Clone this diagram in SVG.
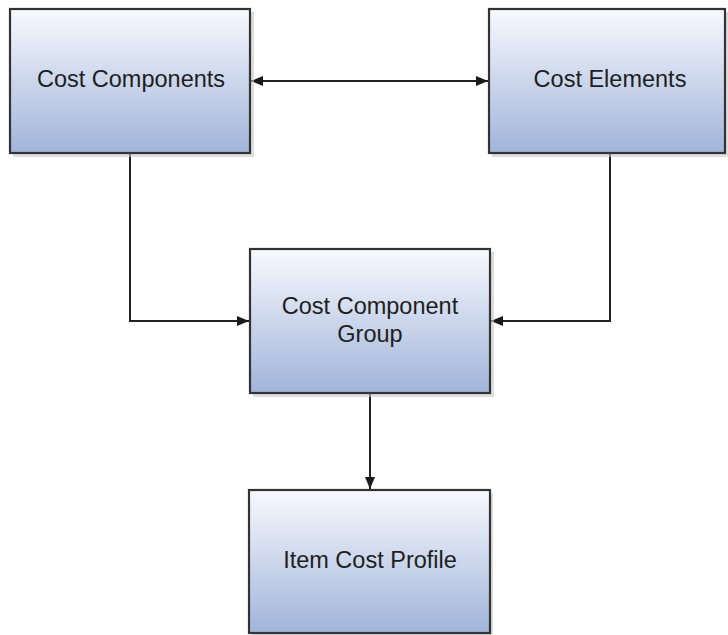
<svg xmlns="http://www.w3.org/2000/svg" width="728" height="635" viewBox="0 0 728 635">
<defs>
<linearGradient id="g" x1="0" y1="0" x2="0" y2="1">
<stop offset="0" stop-color="#f8f9fd"/>
<stop offset="1" stop-color="#a0b4da"/>
</linearGradient>
<marker id="ah" viewBox="0 0 12 10" refX="12" refY="5" markerWidth="12" markerHeight="10" markerUnits="userSpaceOnUse" orient="auto-start-reverse">
<path d="M0,0 L12,5 L0,10 Z" fill="#1a1a1a"/>
</marker>
</defs>
<style>
.box{fill:url(#g);stroke:#333;stroke-width:2.2}
.sh{fill:#c8c8c8;opacity:0.6}
.lbl{font-family:"Liberation Sans",Arial,sans-serif;font-size:23.5px;fill:#1e1e1e;text-anchor:middle}
.c{fill:none;stroke:#222;stroke-width:2}
</style>
<rect width="728" height="635" fill="#fff"/>
<g id="connectors">
<line class="c" x1="251" y1="81" x2="488" y2="81" marker-start="url(#ah)" marker-end="url(#ah)"/>
<polyline class="c" points="130,153 130,321 249,321" marker-end="url(#ah)"/>
<polyline class="c" points="610,153 610,321 491,321" marker-end="url(#ah)"/>
<line class="c" x1="370" y1="393" x2="370" y2="489" marker-end="url(#ah)"/>
</g>
<g id="cost-components">
<rect class="sh" x="13" y="12" width="241" height="145"/>
<rect class="box" x="10" y="9" width="240" height="144"/>
<text class="lbl" x="131" y="87">Cost Components</text>
</g>
<g id="cost-elements">
<rect class="sh" x="492" y="12" width="236" height="145"/>
<rect class="box" x="489" y="9" width="236" height="144"/>
<text class="lbl" x="610" y="87">Cost Elements</text>
</g>
<g id="cost-component-group">
<rect class="sh" x="253" y="252" width="241" height="145"/>
<rect class="box" x="250" y="249" width="240" height="144"/>
<text class="lbl" x="370" y="314">Cost Component</text>
<text class="lbl" x="370" y="342">Group</text>
</g>
<g id="item-cost-profile">
<rect class="sh" x="252" y="493" width="241" height="142"/>
<rect class="box" x="249" y="490" width="241" height="143"/>
<text class="lbl" x="370" y="568">Item Cost Profile</text>
</g>
</svg>
